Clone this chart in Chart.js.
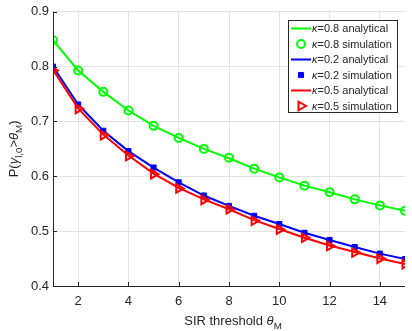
<!DOCTYPE html>
<html>
<head>
<meta charset="utf-8">
<script src="https://cdn.jsdelivr.net/npm/chart.js@4/dist/chart.umd.min.js"></script>
<style>
  html, body { margin: 0; padding: 0; background: #ffffff; }
  #wrap { width: 412px; height: 331px; }
</style>
</head>
<body>
<div id="wrap"><canvas id="c" width="412" height="331"></canvas></div>
<script>
// SIR threshold values (x axis)
const thresholds = [1, 2, 3, 4, 5, 6, 7, 8, 9, 10, 11, 12, 13, 14, 15];
const xTickValues = [2, 4, 6, 8, 10, 12, 14];
const yTickValues = [0.4, 0.5, 0.6, 0.7, 0.8, 0.9];

// Coverage probability, analytical curves
const k08Analytical = [0.848, 0.793, 0.754, 0.720, 0.692, 0.670, 0.650, 0.633, 0.614, 0.598, 0.583, 0.571, 0.558, 0.547, 0.537];
const k02Analytical = [0.800, 0.731, 0.683, 0.646, 0.616, 0.589, 0.565, 0.546, 0.528, 0.513, 0.497, 0.484, 0.471, 0.459, 0.449];
const k05Analytical = [0.794, 0.724, 0.676, 0.638, 0.605, 0.579, 0.558, 0.540, 0.520, 0.504, 0.488, 0.474, 0.462, 0.450, 0.440];

// Coverage probability, Monte Carlo simulation
const k08Simulation = [0.848, 0.793, 0.754, 0.720, 0.692, 0.670, 0.650, 0.634, 0.614, 0.598, 0.583, 0.571, 0.558, 0.547, 0.537];
const k02Simulation = [0.800, 0.731, 0.683, 0.646, 0.616, 0.589, 0.565, 0.546, 0.528, 0.513, 0.497, 0.484, 0.471, 0.459, 0.449];
const k05Simulation = [0.793, 0.723, 0.675, 0.637, 0.604, 0.578, 0.557, 0.540, 0.519, 0.503, 0.488, 0.473, 0.461, 0.450, 0.440];

const legendLabels = ['=0.8 analytical', '=0.8 simulation', '=0.2 analytical', '=0.2 simulation', '=0.5 analytical', '=0.5 simulation'];

const pts = (ys) => thresholds.map((x, i) => ({ x: x, y: ys[i] }));

const GREEN = '#00ff00', BLUE = '#0000ff', RED = '#ff0000';
const AX = '#262626';
const FONT = '"Liberation Sans", Arial, Helvetica, sans-serif';

const datasets = [
  { label: legendLabels[0], data: pts(k08Analytical), borderColor: GREEN, borderWidth: 2, pointRadius: 0, order: 6, kind: 'line' },
  { label: legendLabels[1], data: pts(k08Simulation), showLine: false, borderColor: GREEN, backgroundColor: 'rgba(0,0,0,0)', pointStyle: 'circle', pointRadius: 4, pointBorderWidth: 2, order: 5, kind: 'point' },
  { label: legendLabels[2], data: pts(k02Analytical), borderColor: BLUE, borderWidth: 2, pointRadius: 0, order: 4, kind: 'line' },
  { label: legendLabels[3], data: pts(k02Simulation), showLine: false, borderColor: BLUE, backgroundColor: BLUE, pointStyle: 'rect', pointRadius: 3.6, pointBorderWidth: 1, order: 3, kind: 'point' },
  { label: legendLabels[4], data: pts(k05Analytical), borderColor: RED, borderWidth: 2, pointRadius: 0, order: 2, kind: 'line' },
  { label: legendLabels[5], data: pts(k05Simulation), showLine: false, borderColor: RED, backgroundColor: 'rgba(0,0,0,0)', pointStyle: 'triangle', pointRotation: 90, pointRadius: 5, pointBorderWidth: 2, order: 1, kind: 'point' }
];

// draws a run of text pieces (normal / italic / subscript) starting at x, baseline y
function drawRich(ctx, pieces, x, y, size) {
  let cx = x;
  for (const p of pieces) {
    const s = p.sub ? size * 0.75 : size;
    ctx.font = (p.it ? 'italic ' : '') + s + 'px ' + FONT;
    ctx.fillText(p.t, cx, y + (p.sub ? size * 0.3 : 0));
    cx += ctx.measureText(p.t).width;
  }
  return cx - x;
}
function measureRich(ctx, pieces, size) {
  let w = 0;
  for (const p of pieces) {
    const s = p.sub ? size * 0.75 : size;
    ctx.font = (p.it ? 'italic ' : '') + s + 'px ' + FONT;
    w += ctx.measureText(p.t).width;
  }
  return w;
}

const decorations = {
  id: 'decorations',
  afterDatasetsDraw(chart) {
    const ctx = chart.ctx;
    const xs = chart.scales.x, ys = chart.scales.y;
    const area = chart.chartArea;
    ctx.save();
    // axis lines with inward ticks
    ctx.strokeStyle = AX;
    ctx.lineWidth = 1;
    ctx.beginPath();
    ctx.moveTo(area.left + 0.5, area.top);
    ctx.lineTo(area.left + 0.5, area.bottom + 0.5);
    ctx.lineTo(area.right, area.bottom + 0.5);
    for (const v of yTickValues) {
      const py = Math.round(ys.getPixelForValue(v)) + 0.5;
      ctx.moveTo(area.left, py); ctx.lineTo(area.left + 4, py);
    }
    for (const v of xTickValues) {
      const px = Math.round(xs.getPixelForValue(v)) + 0.5;
      ctx.moveTo(px, area.bottom); ctx.lineTo(px, area.bottom - 4);
    }
    ctx.stroke();

    // axis titles
    ctx.fillStyle = AX;
    ctx.textBaseline = 'alphabetic';
    ctx.textAlign = 'left';
    const xTitle = [{ t: 'SIR threshold ' }, { t: 'θ', it: true }, { t: 'M', sub: true }];
    const xw = measureRich(ctx, xTitle, 13);
    drawRich(ctx, xTitle, (area.left + area.right) / 2 - xw / 2 + 4, 325, 13);

    const yTitle = [{ t: 'P(' }, { t: 'γ', it: true }, { t: 'l,0', sub: true }, { t: '>' }, { t: 'θ', it: true }, { t: 'M', sub: true }, { t: ')' }];
    const yw = measureRich(ctx, yTitle, 13);
    ctx.save();
    ctx.translate(18, (area.top + area.bottom) / 2);
    ctx.rotate(-Math.PI / 2);
    drawRich(ctx, yTitle, -yw / 2, 0, 13);
    ctx.restore();

    // legend box
    const bx = 288.5, by = 20.5, bw = 109, bh = 92;
    ctx.fillStyle = '#ffffff';
    ctx.fillRect(bx, by, bw, bh);
    ctx.strokeStyle = AX;
    ctx.lineWidth = 1;
    ctx.strokeRect(bx, by, bw, bh);
    chart.data.datasets.forEach((ds, i) => {
      const cy = 28.5 + i * 15.5;
      if (ds.kind === 'line') {
        ctx.strokeStyle = ds.borderColor;
        ctx.lineWidth = 2;
        ctx.beginPath();
        ctx.moveTo(291, cy); ctx.lineTo(311, cy);
        ctx.stroke();
      } else {
        ctx.strokeStyle = ds.borderColor;
        ctx.fillStyle = ds.backgroundColor;
        ctx.lineWidth = ds.pointBorderWidth;
        Chart.helpers.drawPoint(ctx, { pointStyle: ds.pointStyle, rotation: ds.pointRotation || 0, radius: ds.pointRadius, borderWidth: ds.pointBorderWidth }, 301, cy);
      }
      ctx.fillStyle = AX;
      ctx.textBaseline = 'middle';
      drawRich(ctx, [{ t: 'κ', it: true }, { t: ds.label }], 312, cy + 0.5, 11);
    });
    ctx.restore();
  }
};

new Chart(document.getElementById('c'), {
  type: 'line',
  data: { datasets: datasets },
  plugins: [decorations],
  options: {
    responsive: false,
    animation: false,
    devicePixelRatio: 1,
    layout: { padding: { top: 11, right: 0, left: 0, bottom: 0 } },
    plugins: { legend: { display: false }, tooltip: { enabled: false } },
    scales: {
      x: {
        type: 'linear',
        min: 1, max: 15,
        afterBuildTicks: (s) => { s.ticks = xTickValues.map(v => ({ value: v })); },
        afterFit: (s) => { s.height = 45; },
        border: { display: false },
        grid: { color: '#e3e3e3', lineWidth: 1, drawTicks: false },
        ticks: { color: AX, font: { family: FONT, size: 13 }, padding: 8, maxRotation: 0 }
      },
      y: {
        type: 'linear',
        min: 0.4, max: 0.9,
        afterBuildTicks: (s) => { s.ticks = yTickValues.map(v => ({ value: v })); },
        afterFit: (s) => { s.width = 53; },
        border: { display: false },
        grid: { color: '#e3e3e3', lineWidth: 1, drawTicks: false },
        ticks: { color: AX, font: { family: FONT, size: 13 }, padding: 4, callback: (v) => v.toFixed(1) }
      }
    }
  }
});
</script>
</body>
</html>
